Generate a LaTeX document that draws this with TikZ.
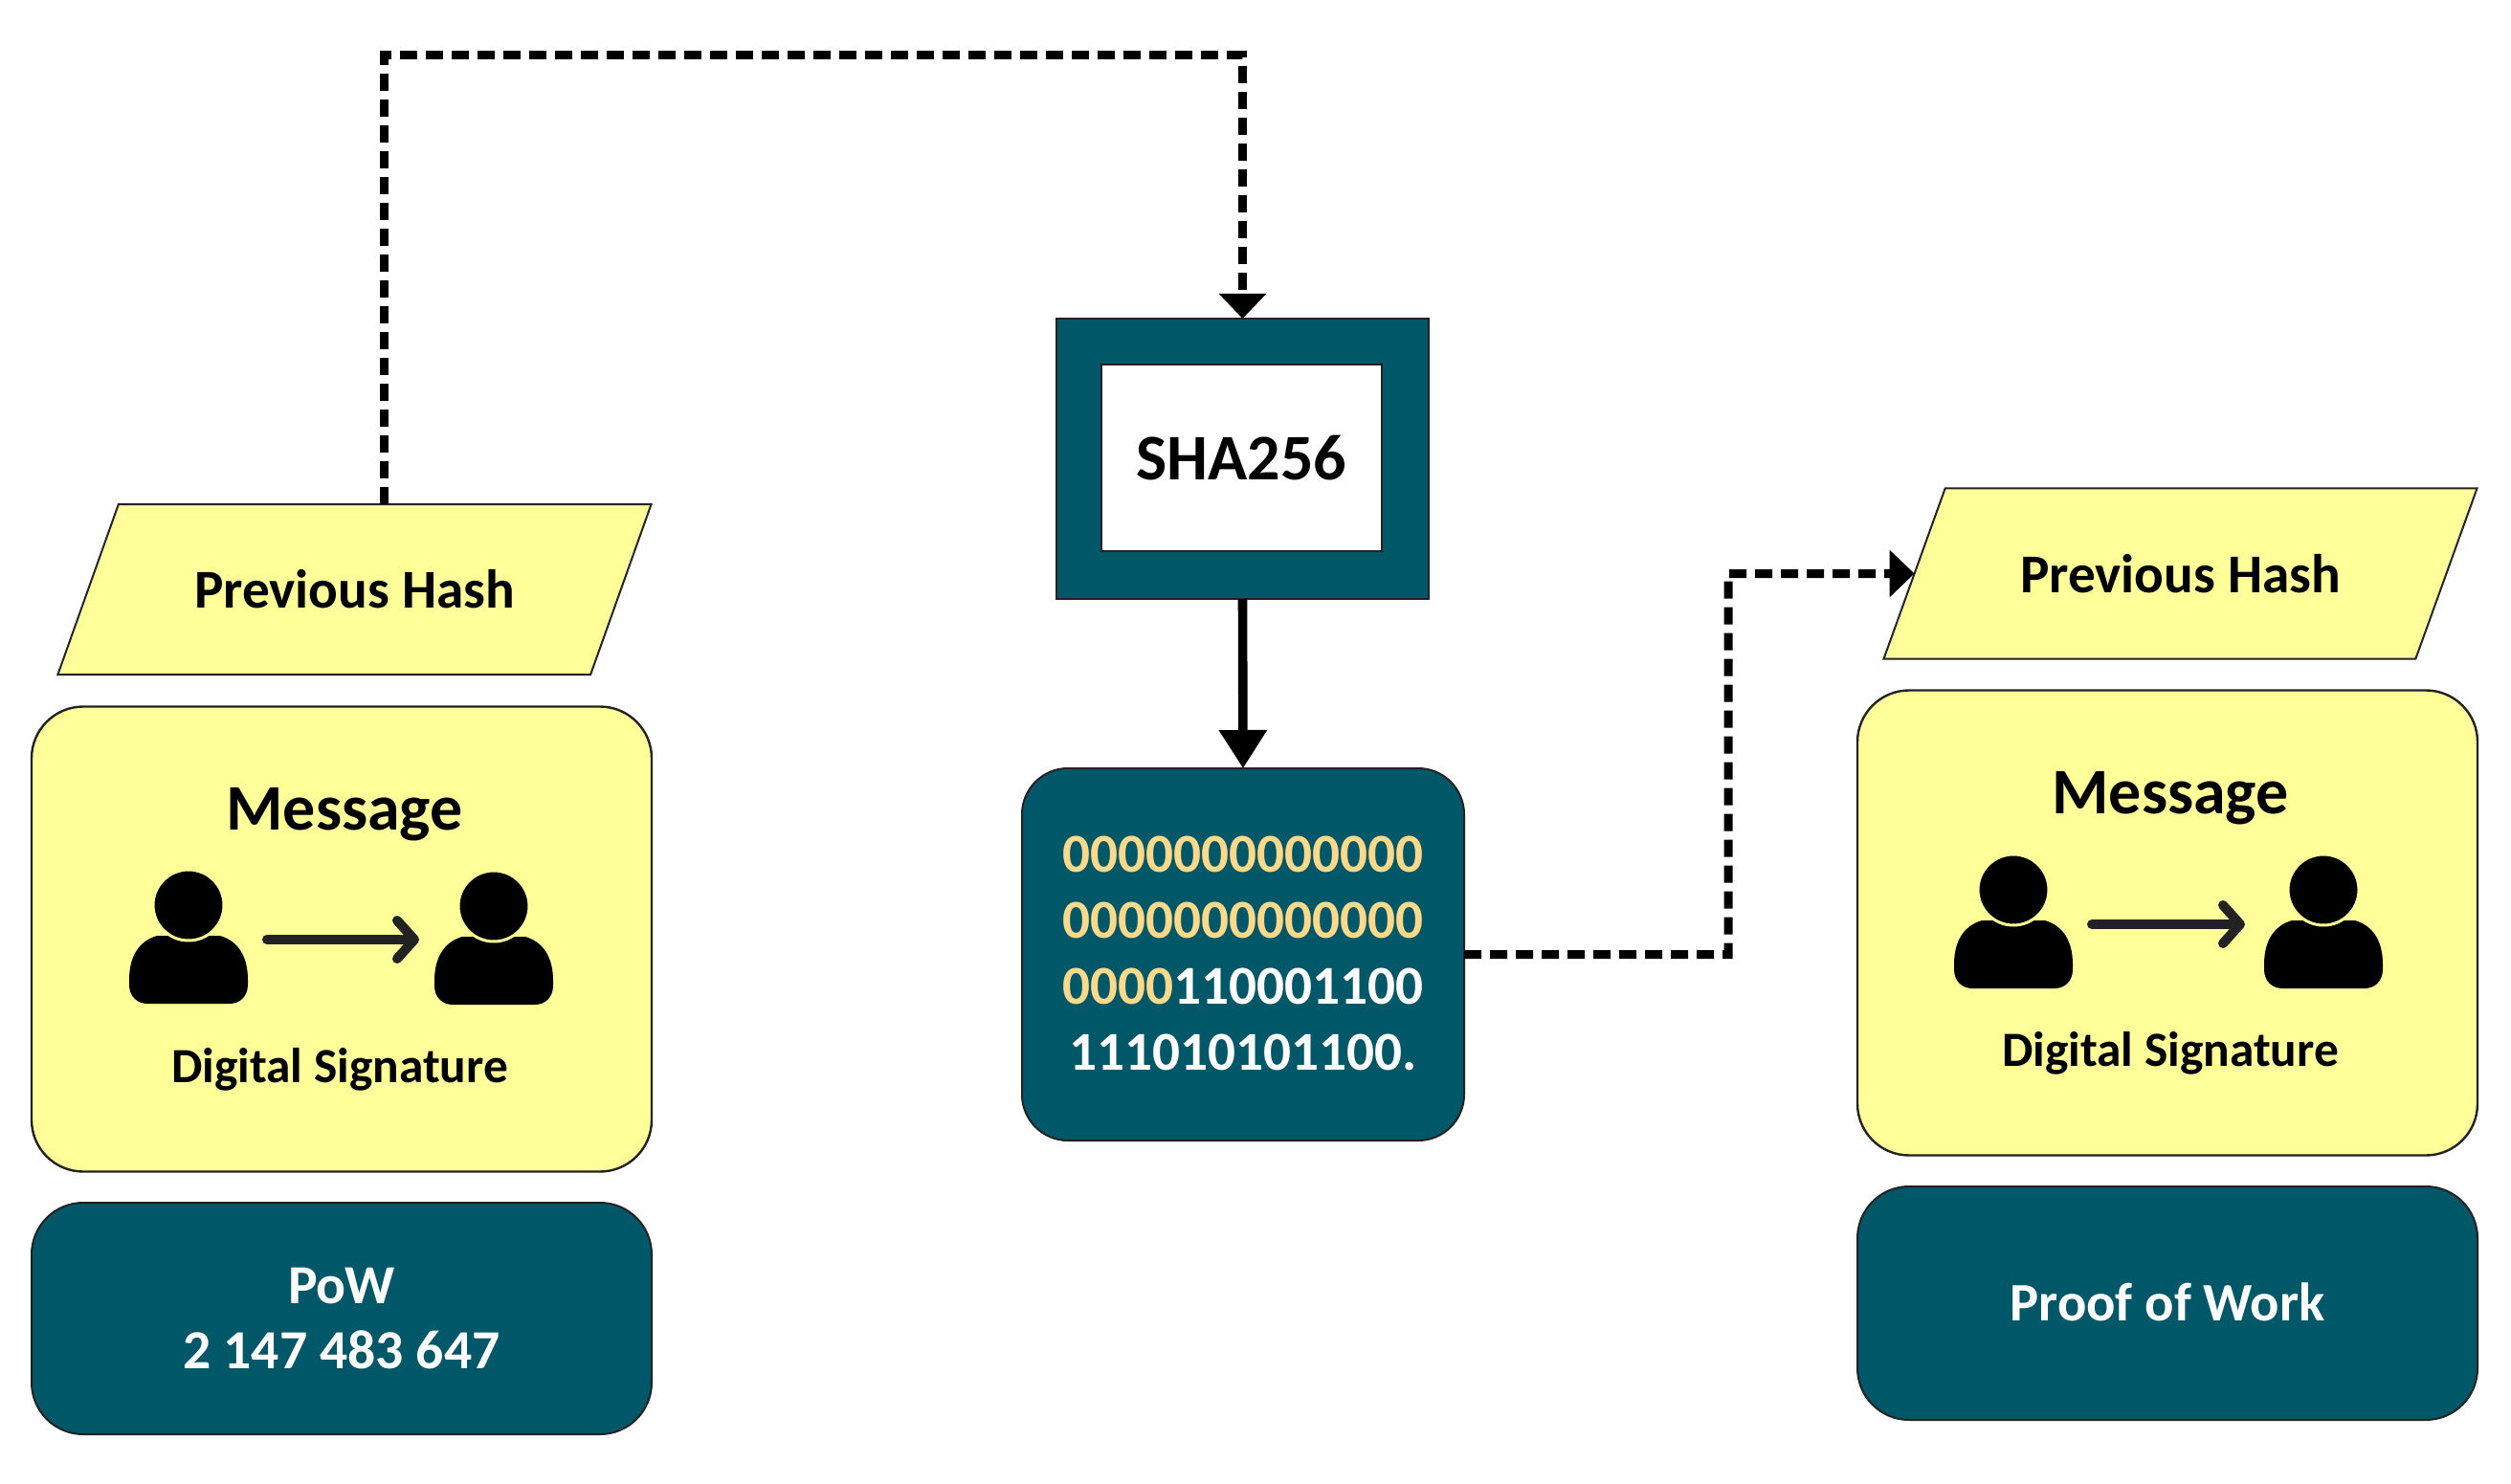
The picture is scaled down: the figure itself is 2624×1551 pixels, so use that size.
\documentclass[tikz,border=0pt]{standalone}
\usepackage{fontspec}
\setmainfont{Carlito}
\usetikzlibrary{arrows.meta,shapes.geometric}
\definecolor{teal}{HTML}{005767}
\definecolor{pale}{HTML}{FFFF99}
\definecolor{gold}{HTML}{FFD98A}
\definecolor{edge}{HTML}{222222}
\newcommand{\fs}[1]{\fontsize{#1pt}{#1pt}\selectfont\bfseries}
\tikzset{
  yellowbox/.style={draw=edge,line width=1.2pt,fill=pale,rounded corners=27pt,minimum width=324pt,minimum height=243pt,inner sep=0pt,outer sep=0pt},
  tealbox/.style={draw=edge,line width=1pt,fill=teal,text=white,rounded corners=27pt,minimum width=324pt,inner sep=0pt,outer sep=0pt,align=center},
  hashbox/.style={draw=edge,line width=1pt,fill=pale,trapezium,trapezium stretches=true,trapezium left angle=43.3,trapezium right angle=136.7,minimum width=310.5pt,minimum height=89pt,inner sep=0pt,outer sep=0pt,font=\fs{28.6}},
  label/.style={inner sep=0pt,outer sep=0pt},
  dashline/.style={line width=4.5pt,dash pattern=on 9pt off 4.5pt,-{Triangle[length=13pt,width=24pt]}},
  solidline/.style={line width=4.8pt,-{Triangle[length=20pt,width=24pt]}},
  msgline/.style={draw=edge,line width=5pt,line cap=round,-{Straight Barb[length=9pt,width=20pt,line width=5pt,round]}},
  person/.pic={
    \fill[black] (-62,78) .. controls (-62,55) and (-53,38) .. (-33,32) -- (33,32)
      .. controls (53,38) and (62,55) .. (62,78) -- (62,83)
      .. controls (62,96) and (53,103) .. (43,103) -- (-43,103)
      .. controls (-53,103) and (-62,96) .. (-62,83) -- cycle;
    \draw[pale,line width=1.5pt,fill=black] (0,0) circle [radius=37];
  }
}
\begin{document}
\begin{tikzpicture}[x=0.5pt,y=-0.5pt]
\useasboundingbox (0,0) rectangle (2624,1551);

% left column
\node[hashbox] (pl) at (370.5,616) {Previous Hash};
\node[yellowbox] (yl) at (357,981.5) {};
\node[label,font=\fs{34}] (ml) at (360,851) {Message};
\node[label,font=\fs{25.7}] (dl) at (355,1118) {Digital Signature};
\node[tealbox,minimum height=121pt,font=\fs{28.8}] (pow) at (357,1378) {PoW\\[5pt]2 147 483 647};
\pic at (197,946) {person};
\pic at (516,947) {person};
\coordinate (al) at (279,982);
\coordinate (bl) at (438,982);
\draw[msgline] (al) -- (bl);

% centre column
\node[draw=edge,line width=1pt,fill=teal,minimum width=194.5pt,minimum height=146.5pt,inner sep=0pt,outer sep=0pt] (sha) at (1298.5,479.5) {};
\node[draw=edge,line width=1pt,fill=white,minimum width=146.5pt,minimum height=97.5pt,inner sep=0pt,outer sep=0pt,font=\fs{34}] (shai) at (1297.5,478.5) {SHA256};
\node[tealbox,rounded corners=24pt,minimum width=231pt,minimum height=194.5pt,font=\fontsize{28.6}{34.4}\selectfont\bfseries] (bin) at (1299,997.5)
  {\raisebox{1.2pt}{\textcolor{gold}{0000000000000}}\\
   \raisebox{1.2pt}{\textcolor{gold}{0000000000000}}\\
   \raisebox{1.2pt}{\textcolor{gold}{0000}110001100}\\
   \raisebox{1.2pt}{111010101100.}};

% right column
\node[hashbox] (pr) at (2278.5,599.5) {\raisebox{0.5pt}{Previous Hash}};
\node[yellowbox] (yr) at (2265,964.5) {};
\node[label,font=\fs{34}] (mr) at (2268,834) {Message};
\node[label,font=\fs{25.7}] (dr) at (2268,1101) {Digital Signature};
\node[tealbox,minimum height=122pt,font=\fs{28.3}] (pf) at (2265,1362) {\raisebox{1pt}{Proof of Work}};
\pic at (2104,930) {person};
\pic at (2428,930) {person};
\coordinate (ar) at (2186,966);
\coordinate (br) at (2346,966);
\draw[msgline] (ar) -- (br);

% connectors
\coordinate (c1) at (401,58);
\coordinate (c2) at (1806,599.5);
\draw[dashline] (c1 |- pl.north) -- (c1) -- (c1 -| sha.north) -- (sha.north);
\draw[solidline] (sha.south) -- (bin.north);
\draw[dashline] (bin.east) -- (c2 |- bin.east) -- (c2) -- (pr.west);
\end{tikzpicture}
\end{document}
